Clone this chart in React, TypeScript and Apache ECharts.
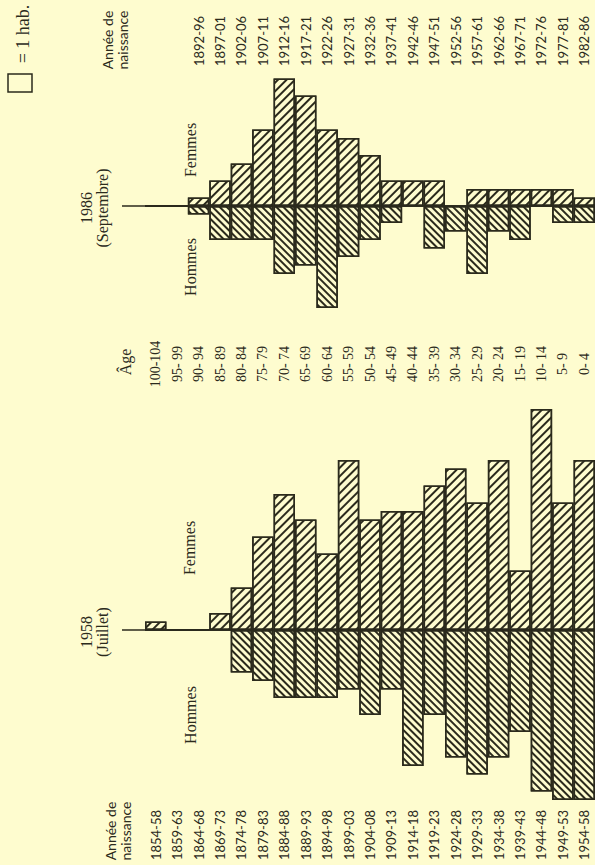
import React, { useEffect, useRef } from 'react';
import * as echarts from 'echarts';

// Age groups (shared category axis, oldest -> youngest)
const ages = ['100-104', '95- 99', '90- 94', '85- 89', '80- 84', '75- 79', '70- 74', '65- 69', '60- 64', '55- 59', '50- 54', '45- 49', '40- 44', '35- 39', '30- 34', '25- 29', '20- 24', '15- 19', '10- 14', '5- 9', '0- 4'];

// Birth-year tick labels
const years1958 = ['1854-58', '1859-63', '1864-68', '1869-73', '1874-78', '1879-83', '1884-88', '1889-93', '1894-98', '1899-03', '1904-08', '1909-13', '1914-18', '1919-23', '1924-28', '1929-33', '1934-38', '1939-43', '1944-48', '1949-53', '1954-58'];
const years1986 = ['', ' ', '1892-96', '1897-01', '1902-06', '1907-11', '1912-16', '1917-21', '1922-26', '1927-31', '1932-36', '1937-41', '1942-46', '1947-51', '1952-56', '1957-61', '1962-66', '1967-71', '1972-76', '1977-81', '1982-86'];

// Inhabitants per age group
const femmes1958 = [1, 0, 0, 2, 5, 11, 16, 13, 9, 20, 13, 14, 14, 17, 19, 15, 20, 7, 26, 15, 20];
const hommes1958 = [0, 0, 0, 0, 5, 6, 8, 8, 8, 7, 10, 7, 16, 10, 15, 17, 15, 12, 19, 20, 20];
const femmes1986 = [0, 0, 1, 3, 5, 9, 15, 13, 9, 8, 6, 3, 3, 3, 0, 2, 2, 2, 2, 2, 1];
const hommes1986 = [0, 0, 1, 4, 4, 4, 8, 7, 12, 6, 4, 2, 0, 5, 3, 8, 3, 4, 0, 2, 2];

const BG = '#fefccf';
const INK = '#2b2a1c';
const SERIF = '"Liberation Serif", "DejaVu Serif", serif';
const SANS = 'Lato, "Open Sans", sans-serif';

export default function App() {
  const ref = useRef<HTMLDivElement>(null);

  useEffect(() => {
    document.body.style.margin = '0';
    document.body.style.background = BG;
    const chart = echarts.init(ref.current as HTMLDivElement, null, { renderer: 'svg' });

    const hatch = (rot: number, gap: number) => ({
      symbol: 'rect',
      symbolSize: 1,
      dashArrayX: [1, 0],
      dashArrayY: [1.1, gap],
      rotation: rot,
      color: INK,
    });
    const barStyle = (rot: number, gap: number) => ({
      color: BG,
      borderColor: INK,
      borderWidth: 1.5,
      decal: hatch(rot, gap),
    });
    const noLine = { show: false };

    const bar = (name: string, data: number[], sign: number, xi: number, yi: number, female: boolean) => ({
      type: 'bar',
      name,
      xAxisIndex: xi,
      yAxisIndex: yi,
      data: data.map((v) => v * sign),
      barCategoryGap: '0%',
      barGap: '-100%',
      itemStyle: female ? barStyle(-Math.PI / 4, 3.6) : barStyle(Math.PI / 4, 2.8),
      emphasis: { disabled: true },
    });

    chart.setOption({
      animation: false,
      backgroundColor: BG,
      grid: [
        { left: 145, top: 70, width: 451.5, height: 238 },
        { left: 145, top: 409, width: 451.5, height: 391 },
      ],
      xAxis: [
        {
          type: 'category', gridIndex: 0, position: 'top', data: years1986,
          axisLine: noLine, axisTick: noLine, splitLine: noLine,
          axisLabel: { rotate: 90, margin: 4, interval: 0, fontFamily: SANS, fontSize: 13, color: INK },
        },
        {
          type: 'category', gridIndex: 0, position: 'bottom', data: ages,
          axisLine: noLine, axisTick: noLine, splitLine: noLine,
          axisLabel: { rotate: 90, margin: 56, align: 'center', verticalAlign: 'middle', interval: 0, fontFamily: SERIF, fontSize: 14, color: INK },
        },
        {
          type: 'category', gridIndex: 1, position: 'bottom', data: years1958,
          axisLine: noLine, axisTick: noLine, splitLine: noLine,
          axisLabel: { rotate: 90, margin: 10, interval: 0, fontFamily: SANS, fontSize: 13, color: INK },
        },
      ],
      yAxis: [
        { type: 'value', gridIndex: 0, min: -12, max: 16, show: false },
        { type: 'value', gridIndex: 1, min: -20, max: 26, show: false },
      ],
      series: [
        bar('Femmes 1986', femmes1986, 1, 0, 0, true),
        bar('Hommes 1986', hommes1986, -1, 0, 0, false),
        bar('Femmes 1958', femmes1958, 1, 2, 1, true),
        bar('Hommes 1958', hommes1958, -1, 2, 1, false),
      ],
    });

    const y86 = chart.convertToPixel({ yAxisIndex: 0 }, 0) as number;
    const y58 = chart.convertToPixel({ yAxisIndex: 1 }, 0) as number;
    const R = Math.PI / 2;
    const txt = (x: number, y: number, text: string, font: string, lh?: number) => ({
      type: 'text', x, y, rotation: R, z: 10,
      style: { text, font, fill: INK, align: 'center', verticalAlign: 'middle', lineHeight: lh },
    });

    chart.setOption({
      graphic: [
        { type: 'line', z: 10, shape: { x1: 122, y1: y86, x2: 597, y2: y86 }, style: { stroke: INK, lineWidth: 1.5 } },
        { type: 'line', z: 10, shape: { x1: 122, y1: y58, x2: 597, y2: y58 }, style: { stroke: INK, lineWidth: 1.5 } },
        { type: 'rect', z: 10, shape: { x: 8, y: 74, width: 24, height: 18 }, style: { fill: BG, stroke: INK, lineWidth: 1.5 } },
        txt(23, 34, '= 1 hab.', `18px ${SERIF}`),
        txt(115, 40, 'Année de\nnaissance', `14px ${SANS}`, 15),
        txt(94, 208, '1986\n(Septembre)', `16px ${SERIF}`, 16),
        txt(190, 150, 'Femmes', `16px ${SERIF}`),
        txt(190, 267, 'Hommes', `16px ${SERIF}`),
        txt(125, 362, 'Âge', `16px ${SERIF}`),
        txt(94, 632, '1958\n(Juillet)', `16px ${SERIF}`, 16),
        txt(189, 548, 'Femmes', `16px ${SERIF}`),
        txt(190, 715, 'Hommes', `16px ${SERIF}`),
        txt(118, 831, 'Année de\nnaissance', `14px ${SANS}`, 15),
      ],
    });

    return () => chart.dispose();
  }, []);

  return <div ref={ref} style={{ position: 'fixed', left: 0, top: 0, width: 595, height: 865 }} />;
}
